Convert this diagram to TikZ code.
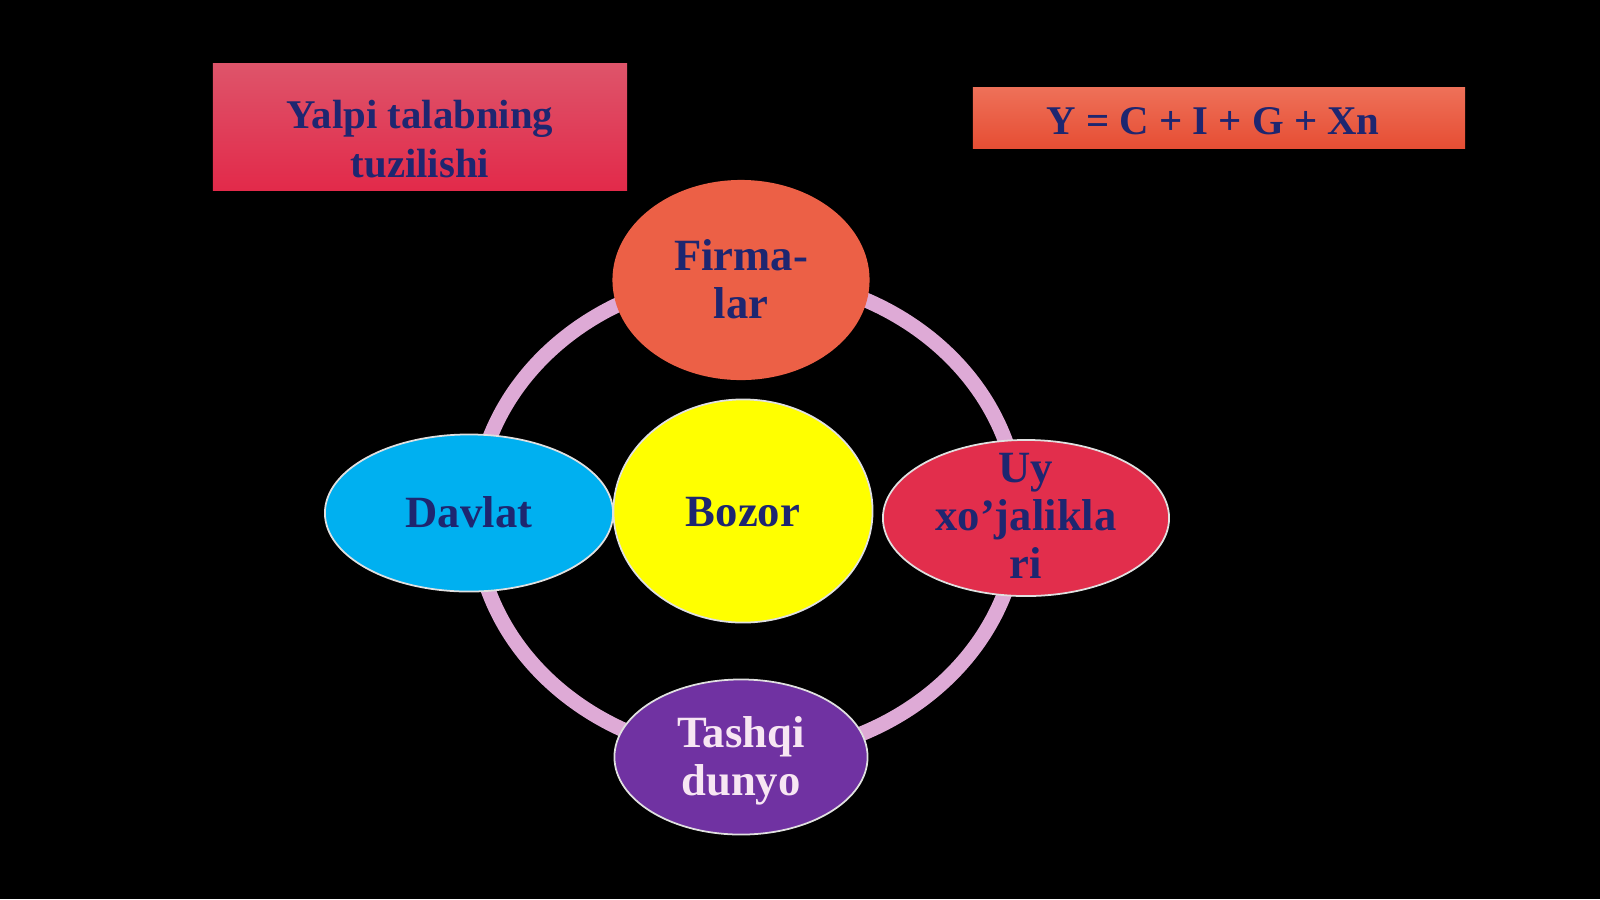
\documentclass[tikz,border=0pt]{standalone}
\usepackage{fontspec}
\setmainfont{Liberation Serif}
\usepackage{tikz}
\usetikzlibrary{shapes.geometric}

\definecolor{navytext}{RGB}{30,38,112}
\definecolor{paletext}{RGB}{247,230,243}
\definecolor{ringpink}{RGB}{222,170,214}
\definecolor{crimsonA}{RGB}{222,84,106}
\definecolor{crimsonB}{RGB}{226,42,74}
\definecolor{coralA}{RGB}{238,112,88}
\definecolor{coralB}{RGB}{230,78,52}
\definecolor{firmcol}{RGB}{236,96,70}
\definecolor{uycol}{RGB}{226,46,76}
\definecolor{davcol}{RGB}{0,176,240}
\definecolor{bozcol}{RGB}{255,255,0}
\definecolor{tashcol}{RGB}{112,50,162}

\begin{document}
\begin{tikzpicture}[x=0.01cm, y=-0.01cm,
    bubble/.style={shape=ellipse, inner sep=0pt},
    rim/.style={draw=white!88!black, line width=0.5pt},
    panel/.style={shape=rectangle, inner sep=0pt},
    txt/.style={align=center, text=navytext, font=\fontsize{12.7}{13.7}\selectfont\bfseries},
    paneltxt/.style={align=center, text=navytext, font=\fontsize{11.6}{13.9}\selectfont\bfseries},
    ring/.style={draw=ringpink, line width=0.15cm}]

    % background
    \fill[black] (0,0) rectangle (1600,899);

    % headings
    \node[panel, top color=crimsonA, bottom color=crimsonB, minimum width=4.14cm, minimum height=1.26cm] (title) at (420,127) {};
    \node[paneltxt] (titletxt) at (420,139) {Yalpi talabning\\tuzilishi};

    \node[panel, top color=coralA, bottom color=coralB, minimum width=4.92cm, minimum height=0.60cm] (formula) at (1219,118) {};
    \node[paneltxt] (formulatxt) at (1213,121) {Y = C + I + G + Xn};

    % ring behind the bubbles
    \coordinate (R) at (747,516);
    \draw[ring] (R) ellipse [x radius=272, y radius=240];

    % bubbles
    \node[bubble, fill=firmcol, minimum width=2.57cm, minimum height=2.00cm] (F) at (741,280) {};
    \node[bubble, rim, fill=davcol, minimum width=2.88cm, minimum height=1.57cm] (D) at (469,513) {};
    \node[bubble, rim, fill=bozcol, minimum width=2.59cm, minimum height=2.23cm] (B) at (743,511) {};
    \node[bubble, rim, fill=uycol, minimum width=2.86cm, minimum height=1.56cm] (U) at (1026,518) {};
    \node[bubble, rim, fill=tashcol, minimum width=2.53cm, minimum height=1.55cm] (T) at (741,757) {};

    \node[txt] (Ftxt) at (741,279) {Firma-\\lar};
    \node[txt] (Dtxt) at (469,512) {Davlat};
    \node[txt] (Btxt) at (743,512) {Bozor};
    \node[txt] (Utxt) at (1026,516) {Uy\\xo’jalikla\\ri};
    \node[txt, text=paletext] (Ttxt) at (741,761) {Tashqi\\dunyo};

\end{tikzpicture}
\end{document}
